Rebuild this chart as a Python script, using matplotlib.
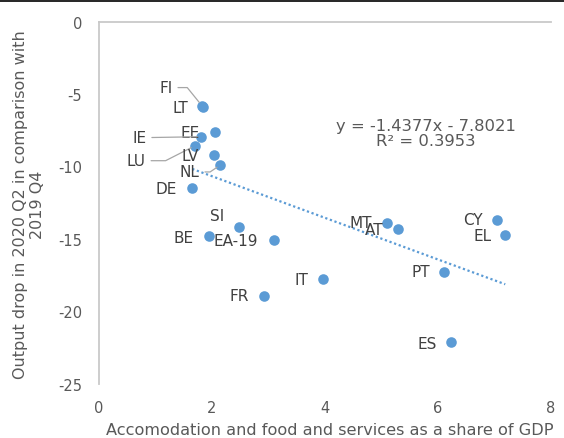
import matplotlib
matplotlib.use("Agg")
import matplotlib.pyplot as plt
from matplotlib.lines import Line2D
import numpy as np

# share of accommodation & food services in GDP (x) vs output drop 2020Q2 vs 2019Q4 (y)
countries = ["FI", "LT", "EE", "IE", "LU", "LV", "NL", "DE", "SI", "BE", "EA-19",
             "IT", "FR", "MT", "AT", "CY", "EL", "PT", "ES"]
share_gdp = [1.82, 1.84, 2.05, 1.81, 1.70, 2.03, 2.15, 1.65, 2.48, 1.94, 3.10,
             3.97, 2.92, 5.10, 5.29, 7.04, 7.19, 6.11, 6.23]
output_drop = [-5.8, -5.9, -7.65, -7.95, -8.57, -9.23, -9.9, -11.49, -14.16, -14.83, -15.06,
               -17.78, -18.95, -13.89, -14.34, -13.68, -14.71, -17.27, -22.13]

# linear trend as printed in the chart
slope, intercept, r2 = -1.4377, -7.8021, 0.3953

# label offsets (pixels) relative to the point, and leader-line shapes
label_offsets = {
    "FI": (-36, 18), "LT": (-23, 0), "EE": (-25, 0), "IE": (-62, -1), "LU": (-59, -15),
    "LV": (-24, 0), "NL": (-31, -7), "DE": (-26, -1), "SI": (-22, 11), "BE": (-25, -1),
    "EA-19": (-38, -1), "IT": (-22, 0), "FR": (-25, 0), "MT": (-26, 0), "AT": (-24, 0),
    "CY": (-24, 0), "EL": (-23, -1), "PT": (-23, 0), "ES": (-24, -1),
}
leaders = {"FI": "angle,angleA=0,angleB=129,rad=0", "IE": "arc3,rad=0",
           "LU": "angle,angleA=0,angleB=27,rad=0", "NL": "angle,angleA=0,angleB=34,rad=0"}

plt.rcParams["font.family"] = "DejaVu Sans"
plt.rcParams["axes.unicode_minus"] = False

dot_color = "#5b9bd5"
grid_grey = "#c9c9c9"
tick_grey = "#595959"
label_grey = "#404040"

fig = plt.figure(figsize=(5.64, 4.39), dpi=100)
ax = fig.add_axes([99 / 564, 1 - 384.6 / 439, 452 / 564, 362 / 439])

ax.scatter(share_gdp, output_drop, s=58, color=dot_color, zorder=3, linewidths=0)

xs = np.array([min(share_gdp), max(share_gdp)])
ax.plot(xs, slope * xs + intercept, color=dot_color, lw=1.6, linestyle=(0, (1, 1.2)), zorder=2)

for name, x, y in zip(countries, share_gdp, output_drop):
    dx, dy = label_offsets[name]
    arrow = None
    if name in leaders:
        arrow = dict(arrowstyle="-", color="#a6a6a6", lw=0.9,
                     connectionstyle=leaders[name], shrinkA=2, shrinkB=3)
    ax.annotate(name, (x, y), xytext=(dx, dy), textcoords="offset pixels",
                ha="center", va="center", fontsize=11, color=label_grey,
                arrowprops=arrow, zorder=4)

ax.text(0.723, 0.692, f"y = {slope}x - {abs(intercept):.4f}\nR² = {r2}",
        transform=ax.transAxes, ha="center", va="center", fontsize=11.8,
        color=tick_grey, linespacing=0.95)

ax.set_xlim(0, 8)
ax.set_ylim(-25, 0)
ax.set_xticks([0, 2, 4, 6, 8])
ax.set_yticks([0, -5, -10, -15, -20, -25])
ax.tick_params(length=0, labelsize=10.5, colors=tick_grey)
ax.tick_params(axis="x", pad=12)
ax.tick_params(axis="y", pad=12)

for side in ["right", "bottom"]:
    ax.spines[side].set_visible(False)
for side in ["top", "left"]:
    ax.spines[side].set_color(grid_grey)
    ax.spines[side].set_linewidth(1.3)

ax.set_xlabel("Accomodation and food and services as a share of GDP",
              fontsize=11.6, color=tick_grey)
ax.xaxis.set_label_coords(0.51, -0.106)
fig.text(29 / 564, 1 - 205 / 439, "Output drop in 2020 Q2 in comparison with\n2019 Q4",
         rotation=90, ha="center", va="center", multialignment="center",
         fontsize=11.5, color=tick_grey, linespacing=1.1)

# black border line along the top of the image
fig.add_artist(Line2D([0, 1], [1 - 1.5 / 439] * 2, transform=fig.transFigure, color="black", lw=1.2))

fig.savefig("out.png", dpi=100)
